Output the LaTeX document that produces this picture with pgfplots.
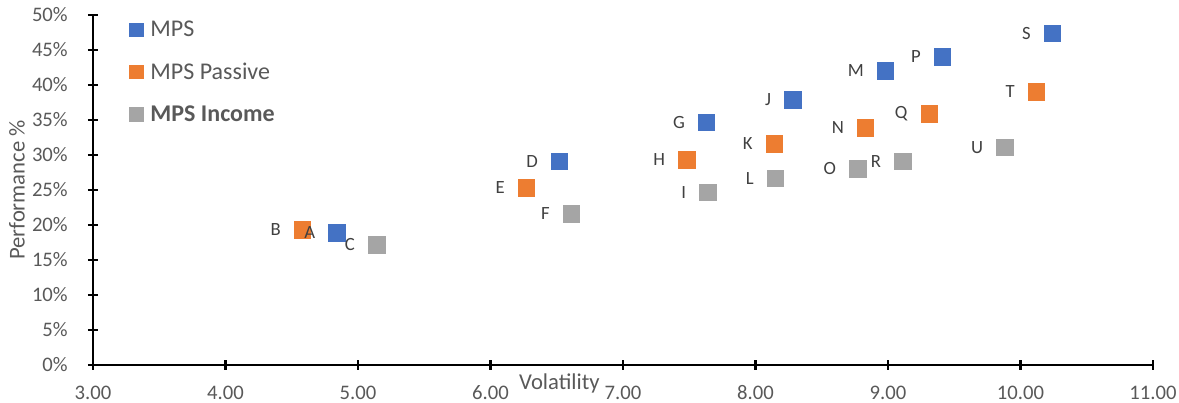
\documentclass[border=0pt]{standalone}
\usepackage{pgfplots}
\pgfplotsset{compat=1.18}
\usepackage{fontspec}
\setmainfont{Carlito}
\definecolor{mpsblue}{HTML}{4472C4}
\definecolor{mpsorange}{HTML}{ED7D31}
\definecolor{mpsgray}{HTML}{A5A5A5}
\definecolor{txtgray}{HTML}{595959}
\definecolor{lblgray}{HTML}{404040}

\pgfplotstableread{
x y lab
4.84 18.9 A
6.52 29.1 D
7.63 34.7 G
8.28 37.9 J
8.98 42.0 M
9.41 44.0 P
10.24 47.4 S
}\mps
\pgfplotstableread{
x y lab
4.58 19.3 B
6.27 25.3 E
7.48 29.3 H
8.14 31.6 K
8.83 33.9 N
9.31 35.9 Q
10.12 39.0 T
}\passive
\pgfplotstableread{
x y lab
5.14 17.2 C
6.61 21.6 F
7.64 24.7 I
8.15 26.7 L
8.77 28.0 O
9.11 29.1 R
9.88 31.1 U
}\income

\begin{document}
\begin{tikzpicture}
\begin{axis}[
  scale only axis, width=795pt, height=262.5pt,
  at={(0,0)}, anchor=south west,
  xmin=3, xmax=11, ymin=0, ymax=50,
  axis lines=left,
  axis line style={line width=1.8pt, -},
  xtick={3,4,5,6,7,8,9,10,11},
  xticklabels={3.00,4.00,5.00,6.00,7.00,8.00,9.00,10.00,11.00},
  ytick={0,5,10,15,20,25,30,35,40,45,50},
  yticklabels={0\%,5\%,10\%,15\%,20\%,25\%,30\%,35\%,40\%,45\%,50\%},
  tick align=center, major tick length=7.5pt,
  tick style={line width=1.8pt, black},
  ticklabel style={font=\fontsize{15.5}{18}\selectfont, text=txtgray, inner sep=0pt},
  xticklabel style={anchor=north, yshift=-11.5pt},
  yticklabel style={anchor=east, xshift=-15pt},
  xlabel={Volatility}, ylabel={Performance \%},
  every axis x label/.style={at={(axis description cs:0.44,0)}, anchor=center, yshift=-13.5pt, font=\fontsize{17}{20}\selectfont, text=txtgray},
  every axis y label/.style={at={(axis description cs:-0.0717,0.5)}, anchor=center, rotate=90, font=\fontsize{17}{20}\selectfont, text=txtgray},
  only marks,
  point meta=explicit symbolic,
  nodes near coords align={left},
  every node near coord/.append style={xshift=-16pt, inner sep=0pt, font=\fontsize{14}{16}\selectfont, text=lblgray},
  legend style={at={(axis description cs:0,1)}, anchor=north west, xshift=27pt, yshift=-2.5pt, draw=none, fill=none, font=\fontsize{18}{21}\selectfont, text=txtgray, row sep=14pt, inner sep=0pt},
  legend cell align=left,
  legend image code/.code={\draw[#1, mark size=5pt] plot coordinates {(0pt,0pt)}; \path (-5pt,0pt) (8.5pt,0pt);},
]
\addplot[mark=square*, mark size=6.2pt, mark options={draw=mpsblue, fill=mpsblue, line width=0.4pt}]
  table[x=x, y=y, meta=lab] {\mps};
\addlegendentry{MPS}
\addplot[mark=square*, mark size=6.2pt, mark options={draw=mpsorange, fill=mpsorange, line width=0.4pt}, nodes near coords]
  table[x=x, y=y, meta=lab] {\passive};
\addlegendentry{MPS Passive}
\addplot[mark=square*, mark size=6.2pt, mark options={draw=mpsgray, fill=mpsgray, line width=0.4pt}, nodes near coords]
  table[x=x, y=y, meta=lab] {\income};
\addlegendentry{\textbf{MPS Income}}
\addplot[mark=none, draw=none, nodes near coords, forget plot]
  table[x=x, y=y, meta=lab] {\mps};
\end{axis}
\pgfresetboundingbox
\path[use as bounding box] (-69.75pt,-28.5pt) rectangle (814.5pt,273.75pt);
\end{tikzpicture}
\end{document}
